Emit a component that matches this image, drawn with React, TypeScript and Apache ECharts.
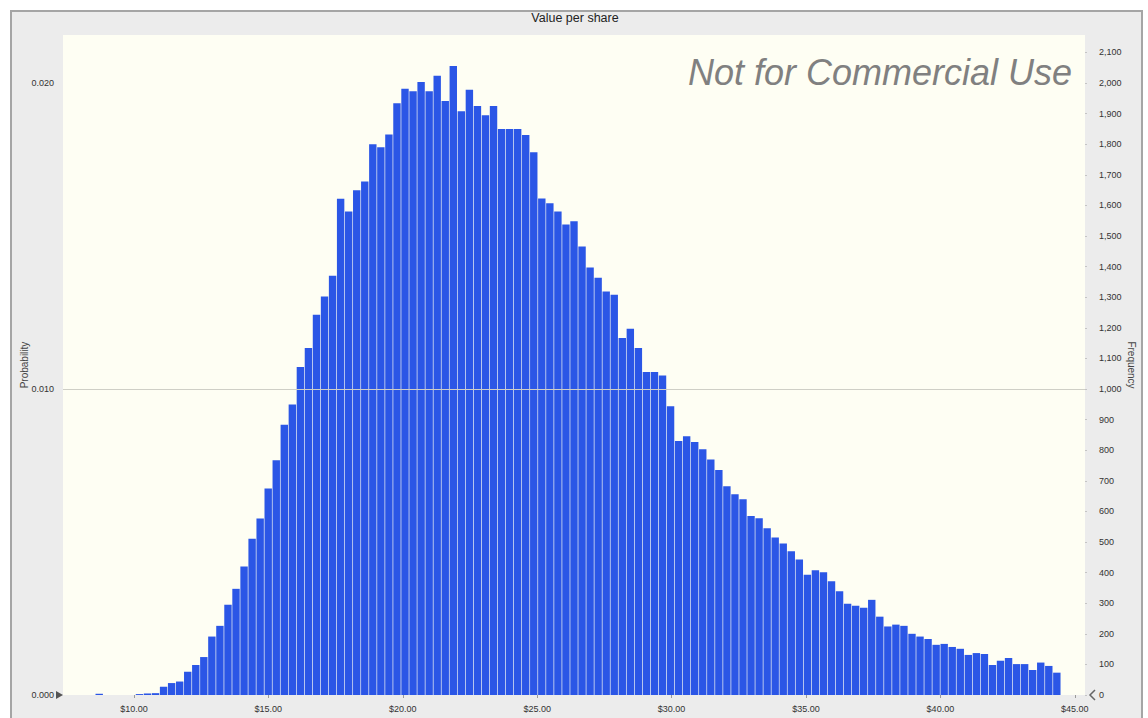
import React, { useEffect, useRef } from "react";
import * as echarts from "echarts";

// Histogram of simulated "Value per share" (frequency per bin, 127 bins)
const frequency: number[] = [
  0, 0, 0, 0, 4, 0, 0, 0, 0, 3,
  5, 6, 27, 39, 44, 76, 98, 124, 191, 226,
  295, 347, 420, 511, 577, 675, 767, 883, 949, 1072,
  1134, 1243, 1302, 1370, 1622, 1580, 1650, 1678, 1800, 1790,
  1832, 1934, 1981, 1973, 2003, 1973, 2024, 1941, 2056, 1908,
  1978, 1925, 1895, 1925, 1850, 1850, 1850, 1830, 1774, 1623,
  1607, 1580, 1538, 1548, 1466, 1397, 1364, 1319, 1308, 1167,
  1197, 1134, 1056, 1056, 1044, 944, 830, 846, 827, 803,
  770, 735, 682, 656, 640, 585, 578, 545, 515, 495,
  470, 443, 393, 408, 401, 372, 339, 298, 292, 285,
  311, 256, 224, 230, 226, 200, 191, 183, 164, 167,
  157, 151, 131, 137, 134, 98, 112, 121, 101, 101,
  82, 106, 95, 73, 0, 0, 0,
];
const binLabels: string[] = frequency.map((_, i) => String(i));

const xTickValues: number[] = [10, 15, 20, 25, 30, 35, 40, 45];
const xMin = 7.36;
const xMax = 45.38;

const freqTicks: number[] = [
  0, 100, 200, 300, 400, 500, 600, 700, 800, 900, 1000,
  1100, 1200, 1300, 1400, 1500, 1600, 1700, 1800, 1900, 2000, 2100,
];
const freqMax = 2157;
const probTicks: number[] = [0, 0.01, 0.02];
const trials = 100000;
const gridLineFreq = 1000;

const titleText = "Value per share";
const leftName = "Probability";
const rightName = "Frequency";
const watermark = "Not for Commercial Use";

const FONT = "Liberation Sans, Arial, sans-serif";

export default function App() {
  const ref = useRef<HTMLDivElement>(null);

  useEffect(() => {
    document.body.style.margin = "0";
    document.body.style.overflow = "hidden";
    const chart = echarts.init(ref.current!, null, { renderer: "svg" });
    chart.setOption({
      animation: false,
      backgroundColor: "transparent",
      textStyle: { fontFamily: FONT },
      grid: {
        left: 51,
        top: 23,
        width: 1022,
        height: 660,
        show: true,
        backgroundColor: "#fefef3",
        borderWidth: 0,
        containLabel: false,
        outerBoundsMode: "none",
      },
      xAxis: [
        {
          type: "category",
          data: binLabels,
          show: false,
          boundaryGap: true,
        },
        {
          type: "value",
          position: "bottom",
          min: xMin,
          max: xMax,
          axisLine: { show: false },
          splitLine: { show: false },
          axisTick: {
            show: true,
            customValues: xTickValues,
            length: 3,
            lineStyle: { color: "#9a9a9a" },
          },
          axisLabel: {
            customValues: xTickValues,
            formatter: (v: number) => "$" + v.toFixed(2),
            margin: 9,
            fontSize: 9,
            color: "#333",
            fontFamily: FONT,
          },
        },
      ],
      yAxis: [
        {
          type: "value",
          position: "left",
          min: 0,
          max: freqMax / trials,
          axisLine: { show: false },
          axisTick: { show: false },
          splitLine: { show: false },
          axisLabel: {
            customValues: probTicks,
            formatter: (v: number) => v.toFixed(3),
            margin: 9,
            fontSize: 9,
            color: "#333",
            fontFamily: FONT,
          },
        },
        {
          type: "value",
          position: "right",
          min: 0,
          max: freqMax,
          axisLine: { show: false },
          splitLine: { show: false },
          axisTick: {
            show: true,
            customValues: freqTicks,
            length: 2,
            lineStyle: { color: "#c4c4c4" },
          },
          axisLabel: {
            customValues: freqTicks,
            formatter: (v: number) => v.toLocaleString("en-US"),
            margin: 14,
            fontSize: 9,
            color: "#333",
            fontFamily: FONT,
          },
        },
      ],
      series: [
        {
          type: "line",
          xAxisIndex: 0,
          yAxisIndex: 1,
          data: [],
          z: 1,
          markLine: {
            silent: true,
            symbol: "none",
            label: { show: false },
            lineStyle: { color: "#cfcfc6", width: 1, type: "solid" },
            data: [{ yAxis: gridLineFreq }],
          },
        },
        {
          type: "bar",
          xAxisIndex: 0,
          yAxisIndex: 1,
          data: frequency,
          z: 3,
          barCategoryGap: "8%",
          itemStyle: { color: "#2b56e6" },
        },
      ],
      graphic: [
        {
          type: "text",
          x: 563,
          y: 6,
          style: {
            text: titleText,
            fill: "#222",
            fontSize: 12.5,
            fontFamily: FONT,
            textAlign: "center",
            textVerticalAlign: "middle",
          },
        },
        {
          type: "text",
          x: 12,
          y: 353,
          rotation: Math.PI / 2,
          style: {
            text: leftName,
            fill: "#444",
            fontSize: 10,
            fontFamily: FONT,
            textAlign: "center",
            textVerticalAlign: "middle",
          },
        },
        {
          type: "text",
          x: 1119,
          y: 353,
          rotation: -Math.PI / 2,
          style: {
            text: rightName,
            fill: "#444",
            fontSize: 10,
            fontFamily: FONT,
            textAlign: "center",
            textVerticalAlign: "middle",
          },
        },
        {
          type: "text",
          x: 1060,
          y: 60,
          z: 10,
          style: {
            text: watermark,
            fill: "#808080",
            fontSize: 36,
            fontStyle: "italic",
            fontFamily: FONT,
            textAlign: "right",
            textVerticalAlign: "middle",
          },
        },
        {
          type: "polygon",
          shape: { points: [[44, 679], [51, 683], [44, 687]] },
          style: { fill: "#555" },
        },
        {
          type: "polyline",
          shape: { points: [[1083, 678], [1078, 683], [1083, 688]] },
          style: { stroke: "#666", lineWidth: 1.5, fill: "none" },
        },
      ],
    });
    return () => chart.dispose();
  }, []);

  return (
    <div
      style={{
        position: "fixed",
        left: 0,
        top: 0,
        width: 1148,
        height: 718,
        background: "#ffffff",
        overflow: "hidden",
      }}
    >
      <div
        ref={ref}
        style={{
          position: "absolute",
          left: 10,
          top: 10,
          width: 1133,
          height: 720,
          border: "2px solid #a5a5a5",
          boxSizing: "border-box",
          background: "#ececec",
        }}
      />
    </div>
  );
}
